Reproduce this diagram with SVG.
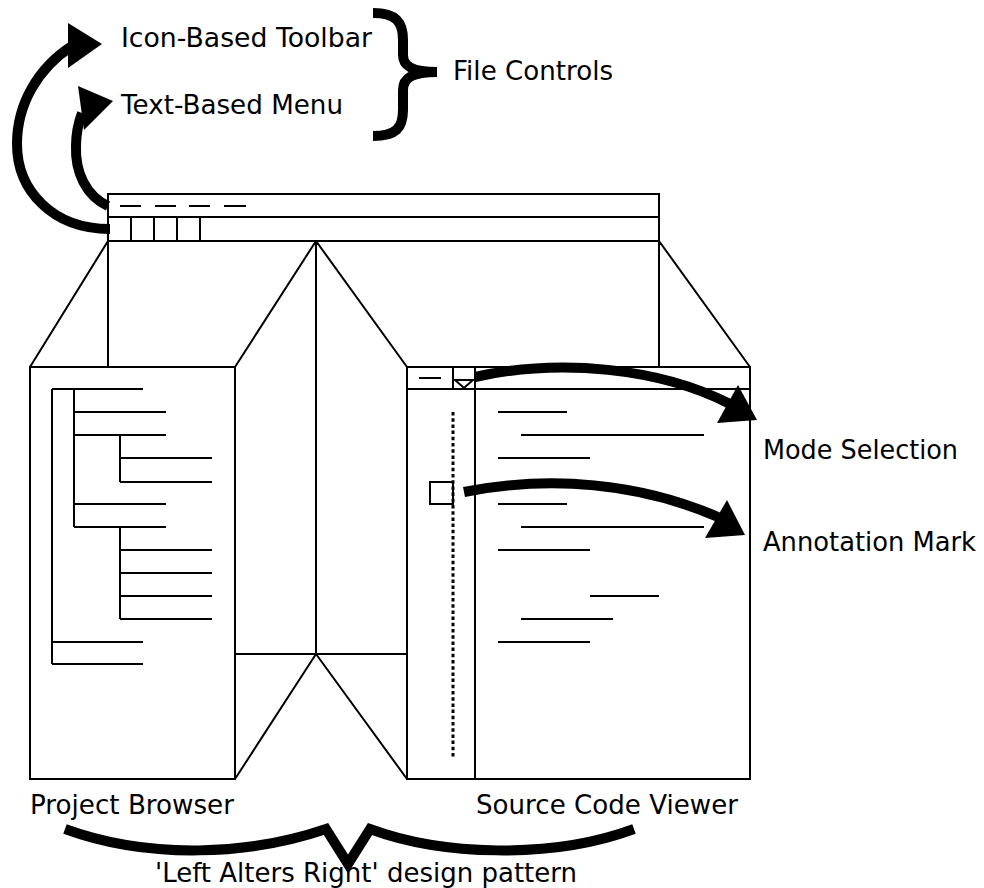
<svg xmlns="http://www.w3.org/2000/svg" width="984" height="888" viewBox="0 0 984 888">
<style>
.ln{fill:none;stroke:#000;stroke-width:2;stroke-linecap:square}
.thin{fill:none;stroke:#000;stroke-width:2}
.thick{fill:none;stroke:#000;stroke-width:10}
.head{fill:#000;stroke:none}
text{font-family:"DejaVu Sans","Verdana",sans-serif;font-size:26.5px;fill:#000}
</style>
<rect width="984" height="888" fill="#fff"/>
<g id="app-window">
<rect class="ln" x="108" y="194" width="551" height="47"/>
<line class="ln" x1="108" y1="217" x2="659" y2="217"/>
<line class="ln" x1="131" y1="217" x2="131" y2="241"/>
<line class="ln" x1="154" y1="217" x2="154" y2="241"/>
<line class="ln" x1="177" y1="217" x2="177" y2="241"/>
<line class="ln" x1="200" y1="217" x2="200" y2="241"/>
<path class="thin" d="M120,206h21M155,206h21M189,206h21M224,206h22"/>
<path class="thin" d="M108,241V367M659,241V367M108,241L30,367M659,241L750,367M316,241L235,367M316,241L407,367M316,241V654"/>
</g>
<g id="middle-panel">
<path class="thin" d="M235,367V779M407,367V779M235,654H407M316,654L235,779M316,654L407,779"/>
</g>
<g id="project-browser">
<rect class="ln" x="30" y="367" width="205" height="412"/>
<path class="thin" d="M52,389V664M52,389H143M74,389V527M74,412H166M74,435H166M120,435V482M120,458H212M120,482H212M74,504H166M74,527H166M120,527V619M120,550H212M120,573H212M120,596H212M120,619H212M52,642H143M52,664H143"/>
</g>
<g id="source-viewer">
<rect class="ln" x="407" y="367" width="343" height="412"/>
<path class="thin" d="M407,389H750M475,367V779M453,367V389M419,378H441"/>
<polygon class="thin" points="455,380 473,380 464,388"/>
<line x1="453" y1="412" x2="453" y2="757" stroke="#000" stroke-width="3" stroke-dasharray="3.5,2.7"/>
<rect class="ln" x="430" y="482" width="23" height="22"/>
<path class="thin" d="M498,412H567M521,435H704M498,458H590M498,504H567M521,527H704M498,550H590M590,596H659M521,619H613M498,642H590"/>
</g>
<g id="connectors">
<path class="thick" d="M110,229 C52,229 17,190 17,144 C17,104 38,68 72,46"/>
<polygon class="head" points="68,23 68,68 102,44"/>
<path class="thick" d="M108,206 C86,196 75,172 76,146 C76,134 78,124 82,113"/>
<polygon class="head" points="78,86 113,101 84,130"/>
<path class="thick" d="M475,377 C560,358 660,368 730,404"/>
<polygon class="head" points="738,385 757,420 717,423"/>
<path class="thick" d="M464,492 C550,475 640,483 718,517"/>
<polygon class="head" points="727,500 745,535 705,538"/>
<path class="thick" d="M373,13 C396,13 403,22 403,40 L403,55 C403,66 412,72 437,72 C412,72 403,78 403,90 L403,110 C403,128 396,136 373,136"/>
<path class="thick" stroke-linejoin="miter" d="M65,829 C150,860 250,855 326,829 L348,864 L370,829 C440,855 550,860 634,829"/>
</g>
<g id="labels">
<text x="121" y="47" textLength="251" lengthAdjust="spacingAndGlyphs">Icon-Based Toolbar</text>
<text x="121" y="114" textLength="222" lengthAdjust="spacingAndGlyphs">Text-Based Menu</text>
<text x="453" y="80" textLength="160" lengthAdjust="spacingAndGlyphs">File Controls</text>
<text x="763" y="459" textLength="195" lengthAdjust="spacingAndGlyphs">Mode Selection</text>
<text x="763" y="551" textLength="213" lengthAdjust="spacingAndGlyphs">Annotation Mark</text>
<text x="30" y="814" textLength="204" lengthAdjust="spacingAndGlyphs">Project Browser</text>
<text x="476" y="814" textLength="262" lengthAdjust="spacingAndGlyphs">Source Code Viewer</text>
<text x="155" y="882" textLength="422" lengthAdjust="spacingAndGlyphs">'Left Alters Right' design pattern</text>
</g>
</svg>
